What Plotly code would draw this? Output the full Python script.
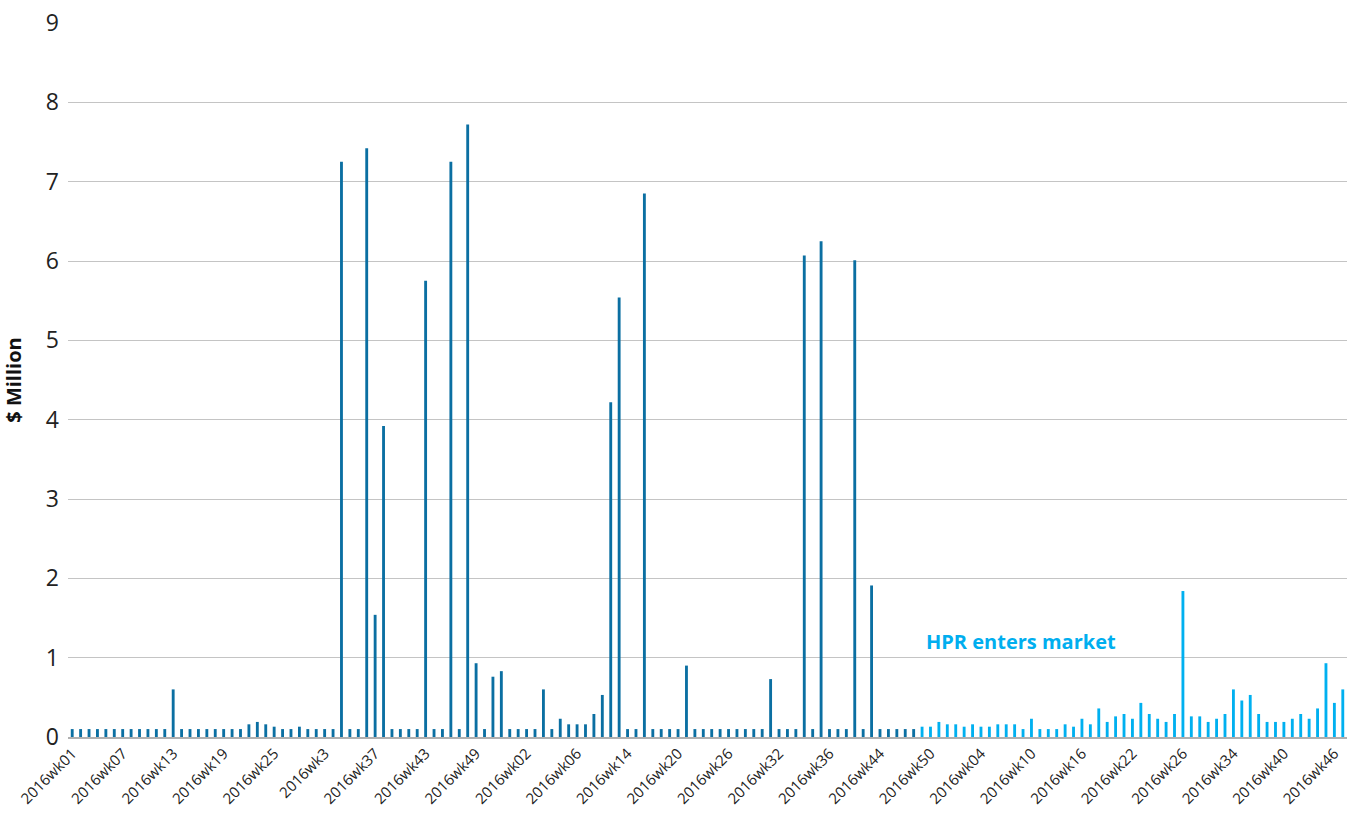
import plotly.graph_objects as go

# weekly values ($ million), before HPR entered the market
before_hpr = [0.1] * 12 + [0.6] + [0.1] * 8 + [
    0.16, 0.19, 0.16, 0.13, 0.1, 0.1, 0.13, 0.1, 0.1, 0.1, 0.1,
    7.25, 0.1, 0.1, 7.42, 1.54, 3.92, 0.1, 0.1, 0.1, 0.1,
    5.75, 0.1, 0.1, 7.25, 0.1, 7.72, 0.93, 0.1, 0.76, 0.83,
    0.1, 0.1, 0.1, 0.1, 0.6, 0.1, 0.23, 0.16, 0.16, 0.16, 0.29, 0.53,
    4.22, 5.54, 0.1, 0.1, 6.85, 0.1, 0.1, 0.1, 0.1, 0.9,
    0.1, 0.1, 0.1, 0.1, 0.1, 0.1, 0.1, 0.1, 0.1, 0.73,
    0.1, 0.1, 0.1, 6.07, 0.1, 6.25, 0.1, 0.1, 0.1, 6.01, 0.1, 1.91,
    0.1, 0.1, 0.1, 0.1, 0.1,
]

# after HPR entered the market
after_hpr = [
    0.13, 0.13, 0.19, 0.16, 0.16, 0.13, 0.16, 0.13, 0.13, 0.16,
    0.16, 0.16, 0.1, 0.23, 0.1, 0.1, 0.1, 0.16, 0.13, 0.23,
    0.16, 0.36, 0.19, 0.26, 0.29, 0.23, 0.43, 0.29, 0.23, 0.19,
    0.29, 1.84, 0.26, 0.26, 0.19, 0.23, 0.29, 0.6, 0.46, 0.53,
    0.29, 0.19, 0.19, 0.19, 0.23, 0.29, 0.23, 0.36, 0.93, 0.43, 0.6,
]

tick_labels = ["2016wk01", "2016wk07", "2016wk13", "2016wk19", "2016wk25", "2016wk3",
               "2016wk37", "2016wk43", "2016wk49", "2016wk02", "2016wk06", "2016wk14",
               "2016wk20", "2016wk26", "2016wk32", "2016wk36", "2016wk44", "2016wk50",
               "2016wk04", "2016wk10", "2016wk16", "2016wk22", "2016wk26", "2016wk34",
               "2016wk40", "2016wk46"]

n_before = len(before_hpr)
x_before = list(range(n_before))
x_after = list(range(n_before, n_before + len(after_hpr)))
n_total = n_before + len(after_hpr)

font = "'Open Sans', Lato, sans-serif"

fig = go.Figure()
fig.add_trace(go.Bar(x=x_before, y=before_hpr, marker_color="#0b6fa2",
                     marker_line_width=0, name="before"))
fig.add_trace(go.Bar(x=x_after, y=after_hpr, marker_color="#00b0f0",
                     marker_line_width=0, name="after"))

fig.add_annotation(x=112.7, y=1.2, text="<b>HPR enters market</b>", showarrow=False,
                   font=dict(family=font, size=20, color="#00aeef"),
                   xanchor="center", yanchor="middle")

fig.update_layout(
    width=1352, height=816,
    margin=dict(l=68, r=5, t=23, b=79, autoexpand=False),
    plot_bgcolor="white", paper_bgcolor="white",
    showlegend=False,
    bargap=0.66,
    font=dict(family=font, color="#222222"),
    xaxis=dict(
        range=[-0.5, n_total - 0.5],
        tickmode="array",
        tickvals=list(range(0, n_total, 6))[:len(tick_labels)],
        ticktext=tick_labels,
        tickangle=-45,
        tickfont=dict(size=15, color="#222222"),
        showgrid=False, zeroline=False,
        showline=True, linecolor="#b0b0b0", linewidth=2,
    ),
    yaxis=dict(
        range=[0, 9],
        dtick=1,
        tickfont=dict(size=23, color="#222222"),
        showgrid=True, gridcolor="#c4c4c4", gridwidth=1,
        zeroline=False,
        title=dict(text="<b>$ Million</b>", font=dict(size=20, color="#111111"), standoff=18),
        ticklabelstandoff=8,
    ),
)

fig.write_html("out.html", config={"displayModeBar": False},
               post_script="document.body.style.margin='0';")
